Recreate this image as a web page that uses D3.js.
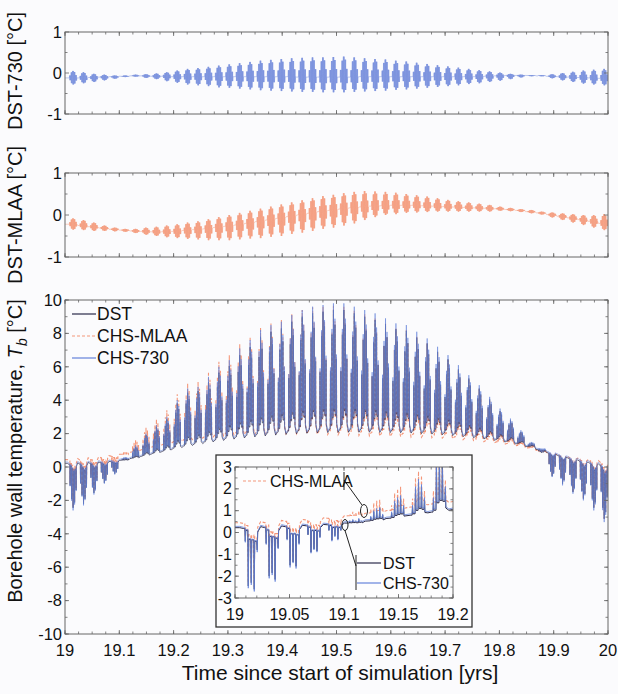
<!DOCTYPE html>
<html>
<head>
<meta charset="utf-8">
<script src="https://cdn.jsdelivr.net/npm/d3@7"></script>
<style>
  body { margin: 0; background: #fbfbfd; }
  svg { display: block; font-family: "Liberation Sans", Arial, Helvetica, sans-serif; }
</style>
</head>
<body>
<svg id="chart" width="618" height="694"></svg>
<script>
// ---- data (one value per week, 52 weeks in year 19..20) ----
const weekIndex = d3.range(52);

const dstBase = [0.22, 0.25, 0.27, 0.3, 0.34, 0.4, 0.5, 0.62, 0.76, 0.9,
  1.04, 1.17, 1.29, 1.4, 1.5, 1.59, 1.67, 1.74, 1.8, 1.86,
  1.91, 1.95, 1.99, 2.02, 2.04, 2.06, 2.07, 2.08, 2.08, 2.08,
  2.07, 2.06, 2.05, 2.03, 2.0, 1.97, 1.93, 1.88, 1.82, 1.75,
  1.68, 1.6, 1.5, 1.38, 1.22, 1.05, 0.88, 0.72, 0.56, 0.42,
  0.3, 0.18];
const dstPeak = [-2.45, -2.2, -1.55, -0.95, -0.4, 0.55, 1.2, 1.9, 2.4, 2.85,
  3.8, 4.45, 4.55, 5.1, 5.65, 6.05, 6.7, 7.2, 7.8, 8.1,
  8.3, 8.7, 9.0, 9.2, 9.3, 9.4, 9.4, 9.2, 9.0, 8.8,
  8.55, 8.25, 8.15, 7.75, 7.4, 6.9, 6.45, 5.85, 5.3, 4.7,
  4.05, 3.35, 2.8, 2.1, 1.45, 0.85, -0.55, -1.0, -1.5, -1.9,
  -2.45, -3.1];

const mlaaBase = [0.44, 0.5, 0.55, 0.61, 0.68, 0.76, 0.88, 1.01, 1.16, 1.3,
  1.43, 1.54, 1.64, 1.73, 1.8, 1.86, 1.91, 1.94, 1.96, 1.98,
  1.99, 1.99, 1.99, 1.98, 1.96, 1.95, 1.93, 1.91, 1.89, 1.87,
  1.85, 1.83, 1.82, 1.8, 1.78, 1.76, 1.73, 1.69, 1.64, 1.58,
  1.52, 1.45, 1.37, 1.27, 1.14, 1.0, 0.87, 0.75, 0.63, 0.53,
  0.45, 0.38];
const mlaaPeak = [-2.4, -2.1, -1.45, -0.8, -0.25, 0.9, 1.6, 2.35, 2.85, 3.4,
  4.35, 5.0, 5.1, 5.7, 6.3, 6.7, 7.35, 7.8, 8.35, 8.6,
  8.8, 9.15, 9.4, 9.55, 9.6, 9.65, 9.6, 9.4, 9.15, 8.95,
  8.6, 8.3, 8.2, 7.8, 7.4, 6.9, 6.4, 5.8, 5.25, 4.65,
  4.0, 3.3, 2.75, 2.05, 1.4, 0.85, -0.45, -0.95, -1.45, -1.85,
  -2.4, -3.1];

const chs730Base = [0.3, 0.33, 0.35, 0.38, 0.42, 0.47, 0.57, 0.69, 0.83, 0.97,
  1.12, 1.25, 1.37, 1.48, 1.58, 1.67, 1.75, 1.82, 1.88, 1.94,
  1.99, 2.03, 2.07, 2.1, 2.12, 2.14, 2.15, 2.16, 2.16, 2.16,
  2.15, 2.14, 2.13, 2.11, 2.08, 2.05, 2.01, 1.96, 1.9, 1.83,
  1.75, 1.66, 1.56, 1.44, 1.28, 1.12, 0.96, 0.8, 0.65, 0.51,
  0.39, 0.28];
const chs730Peak = [-2.6, -2.3, -1.65, -1.0, -0.45, 0.6, 1.3, 2.0, 2.5, 3.0,
  4.0, 4.7, 4.8, 5.4, 6.0, 6.4, 7.1, 7.6, 8.2, 8.5,
  8.7, 9.1, 9.4, 9.6, 9.7, 9.8, 9.8, 9.6, 9.4, 9.2,
  8.9, 8.6, 8.5, 8.1, 7.7, 7.2, 6.7, 6.1, 5.5, 4.9,
  4.2, 3.5, 2.9, 2.2, 1.5, 0.9, -0.6, -1.1, -1.6, -2.0,
  -2.6, -3.3];

// relative height of the five weekday spikes, and level between spikes
const spikeShape = [0.5, 0.8, 1.0, 0.88, 0.6];
const nightLevel = [0.12, 0.15, 0.18, 0.16, 0.12];

// DST-730 difference: weekend level, top and bottom of weekday cluster
const diff730Center = [-0.12, -0.12, -0.11, -0.1, -0.09, -0.08, -0.07, -0.07, -0.08, -0.08,
  -0.09, -0.09, -0.09, -0.09, -0.09, -0.09, -0.09, -0.09, -0.09, -0.09,
  -0.09, -0.09, -0.1, -0.1, -0.1, -0.1, -0.1, -0.1, -0.09, -0.09,
  -0.09, -0.09, -0.09, -0.09, -0.09, -0.09, -0.09, -0.09, -0.09, -0.09,
  -0.08, -0.07, -0.06, -0.06, -0.06, -0.07, -0.08, -0.09, -0.1, -0.11,
  -0.12, -0.13];
const diff730Upper = [0.05, 0.02, -0.02, -0.04, -0.06, -0.06, -0.04, -0.03, -0.01, 0.02,
  0.06, 0.1, 0.12, 0.15, 0.18, 0.21, 0.24, 0.27, 0.3, 0.32,
  0.34, 0.36, 0.37, 0.38, 0.38, 0.39, 0.4, 0.38, 0.36, 0.34,
  0.33, 0.3, 0.28, 0.25, 0.22, 0.19, 0.16, 0.13, 0.1, 0.07,
  0.04, 0.01, -0.02, -0.04, -0.05, -0.05, -0.03, 0.0, 0.03, 0.06,
  0.08, 0.1];
const diff730Lower = [-0.28, -0.25, -0.22, -0.18, -0.14, -0.1, -0.09, -0.12, -0.15, -0.2,
  -0.24, -0.28, -0.3, -0.32, -0.35, -0.36, -0.38, -0.4, -0.42, -0.43,
  -0.44, -0.45, -0.46, -0.46, -0.47, -0.47, -0.47, -0.46, -0.45, -0.44,
  -0.43, -0.41, -0.4, -0.38, -0.36, -0.34, -0.32, -0.3, -0.27, -0.25,
  -0.22, -0.19, -0.15, -0.11, -0.08, -0.08, -0.13, -0.18, -0.22, -0.26,
  -0.28, -0.3];

// DST-MLAA difference
const diffMlaaCenter = [-0.22, -0.25, -0.28, -0.31, -0.34, -0.36, -0.38, -0.39, -0.4, -0.4,
  -0.39, -0.37, -0.35, -0.33, -0.3, -0.27, -0.24, -0.2, -0.16, -0.12,
  -0.08, -0.04, 0.0, 0.04, 0.08, 0.11, 0.14, 0.17, 0.19, 0.21,
  0.22, 0.23, 0.23, 0.23, 0.22, 0.21, 0.2, 0.19, 0.18, 0.17,
  0.16, 0.15, 0.13, 0.11, 0.08, 0.05, 0.01, -0.03, -0.07, -0.11,
  -0.15, -0.2];
const diffMlaaUpper = [-0.08, -0.12, -0.18, -0.25, -0.3, -0.33, -0.33, -0.3, -0.28, -0.25,
  -0.22, -0.18, -0.15, -0.1, -0.05, 0.0, 0.05, 0.1, 0.15, 0.2,
  0.25, 0.3, 0.35, 0.4, 0.45, 0.48, 0.52, 0.55, 0.57, 0.56,
  0.55, 0.53, 0.5, 0.47, 0.44, 0.4, 0.36, 0.33, 0.3, 0.27,
  0.24, 0.2, 0.17, 0.14, 0.12, 0.08, 0.06, 0.04, 0.02, 0.0,
  0.0, 0.02];
const diffMlaaLower = [-0.35, -0.36, -0.38, -0.38, -0.39, -0.4, -0.43, -0.47, -0.5, -0.53,
  -0.55, -0.57, -0.58, -0.6, -0.6, -0.6, -0.58, -0.56, -0.55, -0.52,
  -0.5, -0.45, -0.42, -0.38, -0.33, -0.3, -0.25, -0.2, -0.12, -0.05,
  0.0, 0.02, 0.05, 0.06, 0.07, 0.08, 0.08, 0.08, 0.08, 0.08,
  0.08, 0.1, 0.09, 0.07, 0.04, 0.01, -0.06, -0.12, -0.18, -0.24,
  -0.3, -0.36];
const diffShape = [0.35, 0.8, 1.0, 0.85, 0.4];

// inset (19.0 - 19.2): weekly base and the five daily spikes
const insetWeekIndex = d3.range(11);
const insetDstBase = [0.22, 0.27, 0.3, 0.33, 0.37, 0.43, 0.52, 0.64, 0.77, 0.9, 1.02];
const insetDstSpikes = [
  [-0.4, -2.45, -2.3, -2.6, -0.8],
  [-0.5, -2.0, -1.85, -2.15, -0.7],
  [-0.3, -1.5, -1.35, -1.55, -0.5],
  [-0.1, -0.9, -0.75, -0.85, -0.2],
  [0.1, -0.35, -0.15, -0.3, 0.1],
  [0.5, 0.55, 0.5, 0.6, 0.5],
  [0.7, 0.95, 1.0, 1.1, 0.8],
  [0.9, 1.35, 1.5, 1.6, 1.2],
  [1.2, 2.0, 2.3, 2.1, 1.5],
  [1.5, 3.2, 3.5, 3.3, 2.0],
  [1.6, 3.0, 3.3, 3.0, 1.9]
];
const inset730Base = [0.28, 0.33, 0.36, 0.39, 0.43, 0.49, 0.58, 0.7, 0.83, 0.96, 1.08];
const inset730Spikes = [
  [-0.45, -2.55, -2.4, -2.7, -0.9],
  [-0.55, -2.1, -1.95, -2.25, -0.75],
  [-0.35, -1.6, -1.4, -1.65, -0.55],
  [-0.1, -0.95, -0.8, -0.9, -0.25],
  [0.1, -0.4, -0.2, -0.35, 0.1],
  [0.55, 0.6, 0.55, 0.65, 0.55],
  [0.75, 1.0, 1.1, 1.15, 0.85],
  [0.95, 1.45, 1.6, 1.7, 1.25],
  [1.25, 2.1, 2.45, 2.2, 1.6],
  [1.6, 3.3, 3.6, 3.4, 2.1],
  [1.7, 3.1, 3.4, 3.1, 2.0]
];
const insetMlaaBase = [0.45, 0.5, 0.55, 0.6, 0.67, 0.76, 0.88, 1.0, 1.14, 1.27, 1.38];
const insetMlaaSpikes = [
  [-0.2, -2.3, -2.15, -2.5, -0.6],
  [-0.3, -1.85, -1.7, -2.0, -0.5],
  [-0.1, -1.3, -1.15, -1.4, -0.3],
  [0.15, -0.7, -0.55, -0.65, 0.05],
  [0.4, -0.1, 0.1, -0.05, 0.35],
  [0.85, 0.95, 0.9, 1.0, 0.85],
  [1.05, 1.35, 1.45, 1.5, 1.15],
  [1.25, 1.8, 2.0, 2.1, 1.55],
  [1.55, 2.5, 2.8, 2.6, 1.9],
  [1.9, 3.5, 3.8, 3.6, 2.4],
  [2.0, 3.4, 3.7, 3.4, 2.3]
];
const insetNight = [0.2, 0.2, 0.22, 0.22, 0.2];

// tick labels
const xTickYears = [19, 19.1, 19.2, 19.3, 19.4, 19.5, 19.6, 19.7, 19.8, 19.9, 20];
const insetXTickYears = [19, 19.05, 19.1, 19.15, 19.2];
const tbTicks = [-10, -8, -6, -4, -2, 0, 2, 4, 6, 8, 10];
const diffTicks = [-1, 0, 1];
const insetTbTicks = [-3, -2, -1, 0, 1, 2, 3];
const legendLabels = ["DST", "CHS-MLAA", "CHS-730"];

// ---- drawing ----
const svg = d3.select("#chart");
const colDst = "#2a2a4a", colMlaa = "#f4977a", col730 = "#6583da";

const xMain = d3.scaleLinear().domain([19, 20]).range([65, 608]);
const yTop = d3.scaleLinear().domain([-1, 1]).range([114, 32]);
const yMid = d3.scaleLinear().domain([-1, 1]).range([257, 173]);
const yMain = d3.scaleLinear().domain([-10, 10]).range([634, 300]);
const xIn = d3.scaleLinear().domain([19, 19.2]).range([235, 453]);
const yIn = d3.scaleLinear().domain([-3, 3]).range([598, 467]);

const dayToYear = d => 19 + d / 365;
const fmt = v => String(+v.toFixed(2));

// one week: weekend level, then five daily spikes
function weekPoints(w, b, spikes, night) {
  const t0 = w * 7;
  const pts = [[t0 + 1.6, b], [t0 + 2.9, b + (spikes[0] - b) * 0.06]];
  let prev = pts[1][1];
  spikes.forEach((s, d) => {
    const t = t0 + 3 + d;
    pts.push([t + 0.3, prev], [t + 0.45, s]);
    prev = b + (s - b) * night[d];
    pts.push([t + 0.6, prev]);
  });
  return pts;
}

function diffWeekPoints(w, c, u, l) {
  const t0 = w * 7;
  const pts = [[t0 + 1.6, c], [t0 + 2.9, c]];
  diffShape.forEach((f, d) => {
    const t = t0 + 3 + d;
    for (let j = 0; j < 6; j++) {
      pts.push([t + 0.1 + j * 0.14, j % 2 ? c + (l - c) * f : c + (u - c) * f]);
    }
  });
  pts.push([t0 + 8, c]);
  return pts;
}

function frame(x, y, xMajor, xMinor, yMajor, yMinor, xLabels, fs) {
  const g = svg.append("g");
  const [xl, xr] = x.range(), [yb, yt] = y.range();
  const tick = (x1, y1, x2, y2) => g.append("line")
    .attr("x1", x1).attr("y1", y1).attr("x2", x2).attr("y2", y2)
    .attr("stroke", "#666").attr("stroke-width", 0.8);
  xMinor.forEach(v => { tick(x(v), yb, x(v), yb - 2.5); tick(x(v), yt, x(v), yt + 2.5); });
  xMajor.forEach(v => { tick(x(v), yb, x(v), yb - 4); tick(x(v), yt, x(v), yt + 4); });
  yMinor.forEach(v => { tick(xl, y(v), xl + 2.5, y(v)); tick(xr, y(v), xr - 2.5, y(v)); });
  yMajor.forEach(v => { tick(xl, y(v), xl + 4, y(v)); tick(xr, y(v), xr - 4, y(v)); });
  g.append("rect").attr("x", xl).attr("y", yt).attr("width", xr - xl).attr("height", yb - yt)
    .attr("fill", "none").attr("stroke", "#666").attr("stroke-width", 1);
  g.selectAll("text.yl").data(yMajor).join("text")
    .attr("x", xl - 3).attr("y", d => y(d)).attr("dy", "0.35em")
    .attr("text-anchor", "end").attr("font-size", fs).attr("fill", "#111").text(d => d);
  if (xLabels) {
    g.selectAll("text.xl").data(xMajor).join("text")
      .attr("x", d => x(d)).attr("y", yb + 16).attr("dy", "0.35em")
      .attr("text-anchor", "middle").attr("font-size", fs).attr("fill", "#111").text(fmt);
  }
}

function clip(id, x, y) {
  svg.append("clipPath").attr("id", id).append("rect")
    .attr("x", x.range()[0]).attr("y", y.range()[1])
    .attr("width", x.range()[1] - x.range()[0]).attr("height", y.range()[0] - y.range()[1]);
}
clip("cTop", xMain, yTop);
clip("cMid", xMain, yMid);
clip("cMain", xMain, yMain);
clip("cIn", xIn, yIn);

const xMinorMain = d3.range(0, 41).map(i => 19 + i * 0.025);

// ---- top: DST-730 ----
const lineTop = d3.line().x(d => xMain(dayToYear(d[0]))).y(d => yTop(d[1]));
const topPts = [[0, diff730Center[0]]].concat(weekIndex.flatMap(w =>
  diffWeekPoints(w, diff730Center[w], diff730Upper[w], diff730Lower[w])));
svg.append("path").attr("clip-path", "url(#cTop)").attr("d", lineTop(topPts))
  .attr("fill", "none").attr("stroke", "#6e87da").attr("stroke-width", 0.55).attr("opacity", 0.8);
frame(xMain, yTop, xTickYears, xMinorMain, diffTicks, [-0.5, 0.5], false, 16.5);

// ---- middle: DST-MLAA ----
const lineMid = d3.line().x(d => xMain(dayToYear(d[0]))).y(d => yMid(d[1]));
const midPts = [[0, diffMlaaCenter[0]]].concat(weekIndex.flatMap(w =>
  diffWeekPoints(w, diffMlaaCenter[w], diffMlaaUpper[w], diffMlaaLower[w])));
svg.append("path").attr("clip-path", "url(#cMid)").attr("d", lineMid(midPts))
  .attr("fill", "none").attr("stroke", "#f39576").attr("stroke-width", 0.55).attr("opacity", 0.8);
frame(xMain, yMid, xTickYears, xMinorMain, diffTicks, [-0.5, 0.5], false, 16.5);

// ---- main: borehole wall temperature ----
const lineMain = d3.line().x(d => xMain(dayToYear(d[0]))).y(d => yMain(d[1]));
function mainSeries(base, peak) {
  return [[0, base[0]]].concat(weekIndex.flatMap(w =>
    weekPoints(w, base[w], spikeShape.map(f => base[w] + (peak[w] - base[w]) * f), nightLevel)));
}
const gMain = svg.append("g").attr("clip-path", "url(#cMain)");
gMain.append("path").attr("d", lineMain(mainSeries(mlaaBase, mlaaPeak)))
  .attr("fill", "none").attr("stroke", colMlaa).attr("stroke-width", 1.1).attr("stroke-dasharray", "3,2");
gMain.append("path").attr("d", lineMain(mainSeries(dstBase, dstPeak)))
  .attr("fill", "none").attr("stroke", colDst).attr("stroke-width", 0.7);
gMain.append("path").attr("d", lineMain(mainSeries(chs730Base, chs730Peak)))
  .attr("fill", "none").attr("stroke", col730).attr("stroke-width", 0.7).attr("opacity", 0.85);
frame(xMain, yMain, xTickYears, xMinorMain, tbTicks, d3.range(-10, 10.1, 1), true, 16.5);

// main legend
const legCols = [colDst, colMlaa, col730];
const legY = [314, 336, 358];
legendLabels.forEach((lab, i) => {
  svg.append("line").attr("x1", 72).attr("x2", 96).attr("y1", legY[i]).attr("y2", legY[i])
    .attr("stroke", legCols[i]).attr("stroke-width", 1.2)
    .attr("stroke-dasharray", i === 1 ? "3,2" : null);
  svg.append("text").attr("x", 97).attr("y", legY[i]).attr("dy", "0.35em")
    .attr("font-size", 17.5).attr("fill", "#111").text(lab);
});

// ---- inset ----
svg.append("rect").attr("x", 216).attr("y", 455).attr("width", 256).attr("height", 172)
  .attr("fill", "#fdfdfe").attr("stroke", "#333").attr("stroke-width", 1.3);
const lineIn = d3.line().x(d => xIn(dayToYear(d[0]))).y(d => yIn(d[1]));
function insetSeries(base, spikes) {
  return [[0, base[0]]].concat(insetWeekIndex.flatMap(w => weekPoints(w, base[w], spikes[w], insetNight)));
}
const gIn = svg.append("g").attr("clip-path", "url(#cIn)");
gIn.append("path").attr("d", lineIn(insetSeries(insetMlaaBase, insetMlaaSpikes)))
  .attr("fill", "none").attr("stroke", colMlaa).attr("stroke-width", 1.1).attr("stroke-dasharray", "3,2");
gIn.append("path").attr("d", lineIn(insetSeries(insetDstBase, insetDstSpikes)))
  .attr("fill", "none").attr("stroke", colDst).attr("stroke-width", 1);
gIn.append("path").attr("d", lineIn(insetSeries(inset730Base, inset730Spikes)))
  .attr("fill", "none").attr("stroke", col730).attr("stroke-width", 1).attr("opacity", 0.8);
frame(xIn, yIn, insetXTickYears, d3.range(0, 21).map(i => 19 + i * 0.01),
  insetTbTicks, d3.range(-3, 3.01, 0.5), true, 16);

// inset annotations
const ann = svg.append("g").attr("fill", "none").attr("stroke", "#222").attr("stroke-width", 1);
svg.append("line").attr("x1", 243).attr("x2", 267).attr("y1", 481).attr("y2", 481)
  .attr("stroke", colMlaa).attr("stroke-width", 1.2).attr("stroke-dasharray", "3,2");
svg.append("text").attr("x", 270).attr("y", 481).attr("dy", "0.35em")
  .attr("font-size", 16).attr("fill", "#111").text(legendLabels[1]);
ann.append("line").attr("x1", 344).attr("x2", 344).attr("y1", 472).attr("y2", 490);
ann.append("line").attr("x1", 344).attr("y1", 480).attr("x2", 362).attr("y2", 505);
ann.append("ellipse").attr("cx", 364).attr("cy", 511).attr("rx", 3.5).attr("ry", 6.5);
ann.append("ellipse").attr("cx", 345).attr("cy", 525).attr("rx", 3).attr("ry", 5.5);
ann.append("line").attr("x1", 345).attr("y1", 530.5).attr("x2", 356).attr("y2", 566);
ann.append("line").attr("x1", 356).attr("x2", 356).attr("y1", 555).attr("y2", 590);
[[legendLabels[0], colDst, 563], [legendLabels[2], col730, 583]].forEach(([lab, c, y]) => {
  svg.append("line").attr("x1", 357).attr("x2", 381).attr("y1", y).attr("y2", y)
    .attr("stroke", c).attr("stroke-width", 1.2);
  svg.append("text").attr("x", 383).attr("y", y).attr("dy", "0.35em")
    .attr("font-size", 16).attr("fill", "#111").text(lab);
});

// ---- axis titles ----
function yTitle(cy, build) {
  const t = svg.append("text").attr("transform", `translate(22,${cy}) rotate(-90)`)
    .attr("text-anchor", "middle").attr("font-size", 20).attr("fill", "#111");
  build(t);
}
yTitle(71, t => t.text("DST-730 [°C]"));
yTitle(215, t => t.text("DST-MLAA [°C]"));
yTitle(451, t => {
  t.append("tspan").text("Borehole wall temperature, ");
  t.append("tspan").attr("font-style", "italic").text("T");
  t.append("tspan").attr("font-style", "italic").attr("font-size", 14).attr("dy", 5).text("b");
  t.append("tspan").attr("dy", -5).text(" [°C]");
});
svg.append("text").attr("x", 340).attr("y", 680).attr("text-anchor", "middle")
  .attr("font-size", 21).attr("fill", "#111").text("Time since start of simulation [yrs]");
</script>
</body>
</html>
